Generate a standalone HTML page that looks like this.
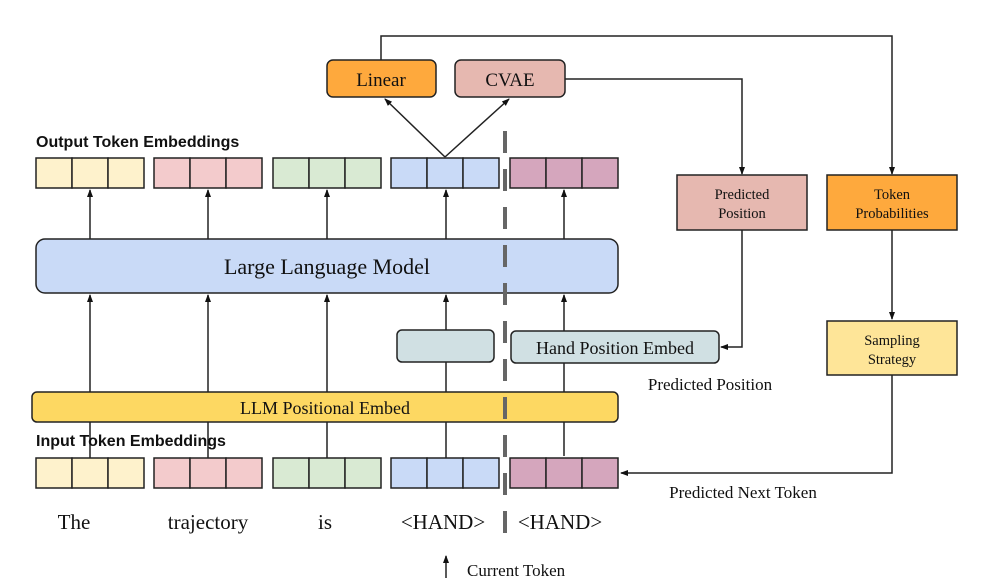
<!DOCTYPE html>
<html><head><meta charset="utf-8"><style>
html,body{margin:0;padding:0;background:#fff;}
svg{display:block;}
.s{font-family:"Liberation Serif",serif;fill:#111;}
.b{font-family:"Liberation Sans",sans-serif;font-weight:bold;fill:#111;}
</style></head><body>
<svg width="987" height="582" viewBox="0 0 987 582" xmlns="http://www.w3.org/2000/svg">
<defs><marker id="a" markerWidth="8" markerHeight="8" refX="7" refY="4" orient="auto" markerUnits="userSpaceOnUse"><path d="M0,1 L8,4 L0,7 z" fill="#111"/></marker></defs>
<g stroke="#222" stroke-width="1.5" fill="none">
<path d="M381,60 V36 H892 V174" marker-end="url(#a)"/>
<path d="M565,79 H742 V174" marker-end="url(#a)"/>
<path d="M742,230 V347 H721" marker-end="url(#a)"/>
<path d="M892,230 V319" marker-end="url(#a)"/>
<path d="M892,375 V473 H621" marker-end="url(#a)"/>
<path d="M445,157 L385,99" marker-end="url(#a)"/>
<path d="M445,157 L509,99" marker-end="url(#a)"/>
<path d="M90,239 V190" marker-end="url(#a)"/>
<path d="M208,239 V190" marker-end="url(#a)"/>
<path d="M327,239 V190" marker-end="url(#a)"/>
<path d="M446,239 V190" marker-end="url(#a)"/>
<path d="M564,239 V190" marker-end="url(#a)"/>
<path d="M90,458 V295" marker-end="url(#a)"/>
<path d="M208,458 V295" marker-end="url(#a)"/>
<path d="M327,458 V295" marker-end="url(#a)"/>
<path d="M446,458 V295" marker-end="url(#a)"/>
<path d="M564,456 V295" marker-end="url(#a)"/>
<path d="M446,578 V556" marker-end="url(#a)"/>
</g>
<g stroke="#222" stroke-width="1.5">
<rect x="327" y="60" width="109" height="37" rx="6" fill="#fea93d"/>
<rect x="455" y="60" width="110" height="37" rx="6" fill="#e6b8b0"/>
<rect x="677" y="175" width="130" height="55" fill="#e6b8b0"/>
<rect x="827" y="175" width="130" height="55" fill="#fea93d"/>
<rect x="827" y="321" width="130" height="54" fill="#fee598"/>
<rect x="36" y="239" width="582" height="54" rx="9" fill="#c9daf7"/>
<rect x="397" y="330" width="97" height="32" rx="5" fill="#d0e0e3"/>
<rect x="511" y="331" width="208" height="32" rx="5" fill="#d0e0e3"/>
<rect x="32" y="392" width="586" height="30" rx="5" fill="#fdd862"/>
</g>
<g stroke="#222" stroke-width="1.5">
<g fill="#fef2cc"><rect x="36" y="158" width="36" height="30"/><rect x="72" y="158" width="36" height="30"/><rect x="108" y="158" width="36" height="30"/>
<rect x="36" y="458" width="36" height="30"/><rect x="72" y="458" width="36" height="30"/><rect x="108" y="458" width="36" height="30"/></g>
<g fill="#f3cbcc"><rect x="154" y="158" width="36" height="30"/><rect x="190" y="158" width="36" height="30"/><rect x="226" y="158" width="36" height="30"/>
<rect x="154" y="458" width="36" height="30"/><rect x="190" y="458" width="36" height="30"/><rect x="226" y="458" width="36" height="30"/></g>
<g fill="#d9ead3"><rect x="273" y="158" width="36" height="30"/><rect x="309" y="158" width="36" height="30"/><rect x="345" y="158" width="36" height="30"/>
<rect x="273" y="458" width="36" height="30"/><rect x="309" y="458" width="36" height="30"/><rect x="345" y="458" width="36" height="30"/></g>
<g fill="#c9daf7"><rect x="391" y="158" width="36" height="30"/><rect x="427" y="158" width="36" height="30"/><rect x="463" y="158" width="36" height="30"/>
<rect x="391" y="458" width="36" height="30"/><rect x="427" y="458" width="36" height="30"/><rect x="463" y="458" width="36" height="30"/></g>
<g fill="#d5a6bd"><rect x="510" y="158" width="36" height="30"/><rect x="546" y="158" width="36" height="30"/><rect x="582" y="158" width="36" height="30"/>
<rect x="510" y="458" width="36" height="30"/><rect x="546" y="458" width="36" height="30"/><rect x="582" y="458" width="36" height="30"/></g>
</g>
<line x1="505" y1="131" x2="505" y2="540" stroke="#666" stroke-width="4" stroke-dasharray="22,16"/>
<text class="b" x="36" y="147" font-size="16">Output Token Embeddings</text>
<text class="b" x="36" y="446" font-size="16">Input Token Embeddings</text>
<text class="s" x="381" y="86" font-size="19" text-anchor="middle">Linear</text>
<text class="s" x="510" y="86" font-size="19" text-anchor="middle">CVAE</text>
<text class="s" x="742" y="199" font-size="14.5" text-anchor="middle">Predicted</text>
<text class="s" x="742" y="218" font-size="14.5" text-anchor="middle">Position</text>
<text class="s" x="892" y="199" font-size="14.5" text-anchor="middle">Token</text>
<text class="s" x="892" y="218" font-size="14.5" text-anchor="middle">Probabilities</text>
<text class="s" x="892" y="345" font-size="14.5" text-anchor="middle">Sampling</text>
<text class="s" x="892" y="364" font-size="14.5" text-anchor="middle">Strategy</text>
<text class="s" x="327" y="274" font-size="22" text-anchor="middle">Large Language Model</text>
<text class="s" x="615" y="354" font-size="18" text-anchor="middle">Hand Position Embed</text>
<text class="s" x="325" y="414" font-size="18" text-anchor="middle">LLM Positional Embed</text>
<text class="s" x="710" y="390" font-size="17" text-anchor="middle">Predicted Position</text>
<text class="s" x="743" y="498" font-size="17" text-anchor="middle">Predicted Next Token</text>
<text class="s" x="74" y="529" font-size="21" text-anchor="middle">The</text>
<text class="s" x="208" y="529" font-size="21" text-anchor="middle">trajectory</text>
<text class="s" x="325" y="529" font-size="21" text-anchor="middle">is</text>
<text class="s" x="443" y="529" font-size="21" text-anchor="middle">&lt;HAND&gt;</text>
<text class="s" x="560" y="529" font-size="21" text-anchor="middle">&lt;HAND&gt;</text>
<text class="s" x="467" y="576" font-size="17">Current Token</text>
</svg>
</body></html>
